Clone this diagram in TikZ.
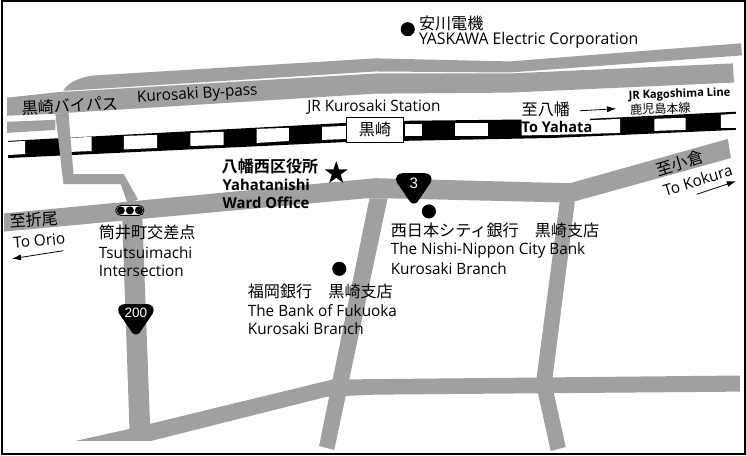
\documentclass[tikz,border=0pt]{standalone}
\usepackage{fontspec}
\usetikzlibrary{arrows.meta,shapes.geometric}
\setmainfont[FakeStretch=0.98]{Open Sans}
\newfontfamily\jp{Noto Sans CJK JP}
\newfontfamily\jpb{Noto Sans CJK JP Bold}
\newfontfamily\sgn{Liberation Sans}
\definecolor{road}{HTML}{A0A0A0}
\newcommand\signshape{(400,172) -- (422,172) .. controls (427,172) and (430,176) .. (428,181) -- (415,200) .. controls (413,203) and (409,203) .. (407,200) -- (394,181) .. controls (392,176) and (395,172) .. (400,172) -- cycle}
\tikzset{
  roadfill/.style={fill=road},
  railfill/.style={fill=black},
  hole/.style={fill=white},
  lab/.style={inner sep=0pt,anchor=west,font=\fontsize{15.5}{15.5}\selectfont,text=black},
  labb/.style={lab,font=\fontsize{15}{15}\selectfont\bfseries},
  jplab/.style={inner sep=0pt,anchor=west,font=\jp\fontsize{16}{16}\selectfont,text=black},
  jplabb/.style={jplab,font=\jpb\fontsize{16}{16}\selectfont},
  dotmark/.style={fill=black,circle,inner sep=0pt,minimum size=14pt},
  dirarrow/.style={-{Latex[length=9pt,width=6pt]},line width=0.8pt},
  signtxt/.style={inner sep=0pt,text=white,font=\sgn\fontsize{13.5}{13.5}\selectfont}
}
\begin{document}
\begin{tikzpicture}[x=1pt,y=-1pt]
\useasboundingbox (0,0) rectangle (741,452);
\fill[white] (0,0) rectangle (741,452);
% by-pass
\fill[roadfill] (63,90) .. controls (66,84) and (76,77) .. (93,75) -- (373,58) -- (506,61) -- (736,43) -- (737,55) -- (506,72) -- (373,71) -- (68,90) -- cycle;
\fill[roadfill] (7,97) -- (63,91) -- (68,91) -- (373,73) -- (506,73) -- (728,63) -- (729,82) -- (506,92) -- (373,93) -- (68,112) -- (55,113) -- (7,115) -- cycle;
\fill[roadfill] (7,121) -- (55,119) -- (55,129) -- (7,132) -- cycle;
% rail
\fill[railfill] (8,140) -- (345,122) -- (401,120) -- (586,118) -- (731,111) -- (731,129) -- (550,137) -- (345,141) -- (8,157) -- cycle;
\foreach \a/\b/\c/\d/\e/\f/\g/\h in {
 8/141/25/140/25/153/8/154,
 68/137/91/136/91/150/68/151,
 123/135/156/134/156/147/123/148.5,
 189/132/222/131/222/144/189/145,
 255/128/287/127/287/140/255/142,
 320/126/345/125/345/138/320/139,
 402/123/419/123/419/135/402/135,
 452/122/485/122/485/135/452/135,
 650/118/681/117/681/129/650/130,
 716/114/731/113/731/127/716/127}
 \fill[hole] (\a,\b) -- (\c,\d) -- (\e,\f) -- (\g,\h) -- cycle;
\fill[hole] (518,115) -- (586,115) -- (586,119.5) -- (616,118) -- (616,132) -- (551,134) -- (518,134.5) -- cycle;
% connector over rail
\fill[roadfill] (55,113) -- (68,112) -- (73,173) -- (123,173) -- (137,198) -- (127,203) -- (120,183) -- (63,183) -- cycle;
% main roads
\fill[roadfill] (4,212) -- (373,177) -- (566,182) -- (723,138) -- (726,157) -- (571,200) -- (556,201) -- (385,197) -- (363,197) -- (4,230) -- cycle;
\fill[roadfill] (121,205) -- (141,205) -- (149,421) -- (150,438) -- (129,438) -- cycle;
\fill[roadfill] (75,438) -- (129,426) -- (149,421) -- (330,377) -- (343,377) -- (343,392) -- (325,394) -- (150,438) -- cycle;
\fill[roadfill] (367,197) -- (385,197) -- (332,447) -- (317,443) -- cycle;
\fill[roadfill] (330,377) -- (533,375) -- (735,373) -- (735,389) -- (373,392) -- (325,394) -- cycle;
\fill[roadfill] (556,200) -- (571,200) -- (549,374) -- (550,390) -- (562,444) -- (547,448) -- (534,389) -- (533,375) -- cycle;
% frame
\draw[line width=1.8pt] (2,1) rectangle (740,451);
% signs
\fill[black] \signshape;
\node[signtxt,font=\sgn\fontsize{15}{15}\selectfont] (s3) at (411,182) {3};
\fill[black,shift={(-276,130)}] \signshape;
\node[signtxt] (s200) at (135,311) {200};
% traffic light
\node[draw=black,fill=white,line width=0.9pt,rounded corners=5pt,minimum width=28pt,minimum height=10pt,inner sep=0pt] (light) at (129,209) {};
\foreach \x/\n in {120/a,129/b,138/c}
  \node[fill=black,circle,inner sep=0pt,minimum size=8pt] (lamp\n) at (\x,209) {};
% station
\node[draw=black,fill=white,line width=0.8pt,minimum width=57pt,minimum height=24pt,inner sep=0pt,font=\jp\fontsize{16}{16}\selectfont] (station) at (372.5,129) {黒崎};
% marks
\node[dotmark] (d1) at (405,29) {};
\node[dotmark] (d2) at (426,210) {};
\node[dotmark] (d3) at (337,267) {};
\node[fill=black,star,star points=5,star point ratio=2.6,inner sep=0pt,minimum size=24pt] (ward) at (334,172) {};
% labels
\node[jplab] (l1) at (416,23) {安川電機};
\node[lab,font=\fontsize{16}{16}\selectfont] (l2) at (416,40) {YASKAWA Electric Corporation};
\node[jplab,rotate=3,anchor=center] (l3) at (70,105) {黒崎バイパス};
\node[lab,anchor=center,rotate=3.5,font=\fontsize{15.5}{15.5}\selectfont] (l4) at (196,94) {Kurosaki By-pass};
\node[lab] (l5) at (305,106) {JR Kurosaki Station};
\node[jplabb] (l6) at (220,165) {八幡西区役所};
\node[labb] (l7) at (221,184) {Yahatanishi};
\node[labb] (l8) at (221,201) {Ward Office};
\node[jplab] (l9) at (518,109) {至八幡};
\node[labb,font=\fontsize{14.7}{14.7}\selectfont\bfseries] (l10) at (518,126) {To Yahata};
\node[lab,anchor=center,rotate=2,font=\fontsize{11.3}{11.3}\selectfont\bfseries] (l11) at (675,94) {JR Kagoshima Line};
\node[jplab,anchor=center,rotate=2,font=\jp\fontsize{12}{12}\selectfont] (l12) at (656,108) {鹿児島本線};
\node[jplab,anchor=center,rotate=17] (l13) at (675,162) {至小倉};
\node[lab,anchor=center,rotate=17] (l14) at (693,179) {To Kokura};
\node[jplab] (l15) at (388,229) {西日本シティ銀行　黒崎支店};
\node[lab] (l16) at (388,249) {The Nishi-Nippon City Bank};
\node[lab] (l17) at (388,267) {Kurosaki Branch};
\node[jplab] (l18) at (246,289) {福岡銀行　黒崎支店};
\node[lab] (l19) at (246,309) {The Bank of Fukuoka};
\node[lab] (l20) at (246,326) {Kurosaki Branch};
\node[jplab,anchor=center,rotate=4] (l21) at (34,218) {至折尾};
\node[lab,anchor=center,rotate=5] (l22) at (39,239) {To Orio};
\node[jplab] (l23) at (98,231) {筒井町交差点};
\node[lab] (l24) at (98,251) {Tsutsuimachi};
\node[lab] (l25) at (98,269) {Intersection};
% arrows
\coordinate (a1s) at (576,110); \coordinate (a1e) at (612,108);
\coordinate (a2s) at (692,193); \coordinate (a2e) at (731,180);
\coordinate (a3s) at (63,249); \coordinate (a3e) at (12,257);
\draw[dirarrow] (a1s) -- (a1e);
\draw[dirarrow] (a2s) -- (a2e);
\draw[dirarrow] (a3s) -- (a3e);
\end{tikzpicture}
\end{document}
